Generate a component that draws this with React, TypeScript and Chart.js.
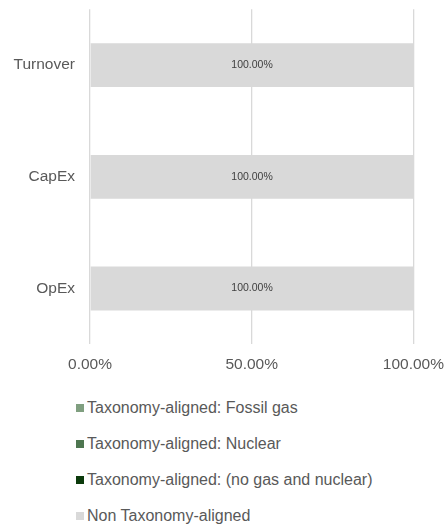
import React, { useEffect, useRef } from "react";
import { Chart, registerables } from "chart.js";

Chart.register(...registerables);

const categories = ["Turnover", "CapEx", "OpEx"];
const fossilGas = [0, 0, 0];
const nuclear = [0, 0, 0];
const noGasNuclear = [0, 0, 0];
const nonAligned = [100, 100, 100];
const xTicks = [0, 50, 100];

const seriesNames = [
  "Taxonomy-aligned: Fossil gas",
  "Taxonomy-aligned: Nuclear",
  "Taxonomy-aligned: (no gas and nuclear)",
  "Non Taxonomy-aligned",
];
const seriesColors = ["#809f80", "#4e7650", "#0b3a0b", "#d9d9d9"];
const seriesValues = [fossilGas, nuclear, noGasNuclear, nonAligned];

const FONT = "Arial, 'Liberation Sans', sans-serif";
const TEXT = "#595959";

const labelPlugin = {
  id: "barLabels",
  afterDatasetsDraw(chart: any) {
    const ctx = chart.ctx;
    ctx.save();
    ctx.font = `10.5px ${FONT}`;
    ctx.fillStyle = "#404040";
    ctx.textAlign = "center";
    ctx.textBaseline = "middle";
    chart.data.datasets.forEach((ds: any, di: number) => {
      const meta = chart.getDatasetMeta(di);
      meta.data.forEach((bar: any, i: number) => {
        const v = ds.data[i];
        if (!v) return;
        const p = bar.getProps(["x", "y", "base"], true);
        ctx.fillText(v.toFixed(2) + "%", (p.x + p.base) / 2, p.y);
      });
    });
    ctx.restore();
  },
};

export default function App() {
  const ref = useRef<HTMLCanvasElement>(null);
  useEffect(() => {
    if (!ref.current) return;
    const chart = new Chart(ref.current, {
      type: "bar",
      data: {
        labels: categories,
        datasets: seriesNames.map((name, i) => ({
          label: name,
          data: seriesValues[i],
          backgroundColor: seriesColors[i],
          borderWidth: 0,
          barPercentage: 0.393,
          categoryPercentage: 1,
        })),
      },
      options: {
        indexAxis: "y",
        animation: false,
        responsive: false,
        maintainAspectRatio: false,
        layout: { autoPadding: false, padding: { top: 8, left: 0, right: 0, bottom: 0 } },
        plugins: { legend: { display: false }, tooltip: { enabled: false } },
        scales: {
          x: {
            stacked: true,
            min: 0,
            max: 100,
            afterBuildTicks: (axis: any) => {
              axis.ticks = xTicks.map((v) => ({ value: v }));
            },
            grid: { color: "#d9d9d9", lineWidth: 1.3, drawTicks: true, tickLength: 11, tickColor: "rgba(0,0,0,0)" },
            border: { display: false },
            ticks: {
              padding: 0,
              color: TEXT,
              font: { size: 15.5, family: FONT },
              callback: (v: any) => Number(v).toFixed(2) + "%",
            },
          },
          y: {
            stacked: true,
            grid: { display: false, drawTicks: true, tickLength: 15 },
            border: { display: false },
            afterFit: (axis: any) => {
              axis.width = 90;
            },
            ticks: {
              padding: 0,
              color: TEXT,
              font: { size: 15.5, family: FONT },
            },
          },
        },
      },
      plugins: [labelPlugin],
    } as any);
    return () => chart.destroy();
  }, []);

  const legendTops = [408, 444, 480, 516];
  return (
    <div style={{ position: "absolute", left: 0, top: 0, width: 444, height: 525, overflow: "hidden", background: "#fff" }}>
      <canvas ref={ref} width={444} height={374} style={{ position: "absolute", left: 0, top: 0, width: 444, height: 374 }} />
      {seriesNames.map((name, i) => (
        <div
          key={name}
          style={{
            position: "absolute",
            left: 76,
            top: legendTops[i] - 10,
            height: 20,
            display: "flex",
            alignItems: "center",
            fontFamily: FONT,
            fontSize: 16,
            color: TEXT,
            whiteSpace: "nowrap",
          }}
        >
          <span style={{ display: "inline-block", width: 8, height: 8, background: seriesColors[i], marginRight: 3 }} />
          <span>{name}</span>
        </div>
      ))}
    </div>
  );
}
